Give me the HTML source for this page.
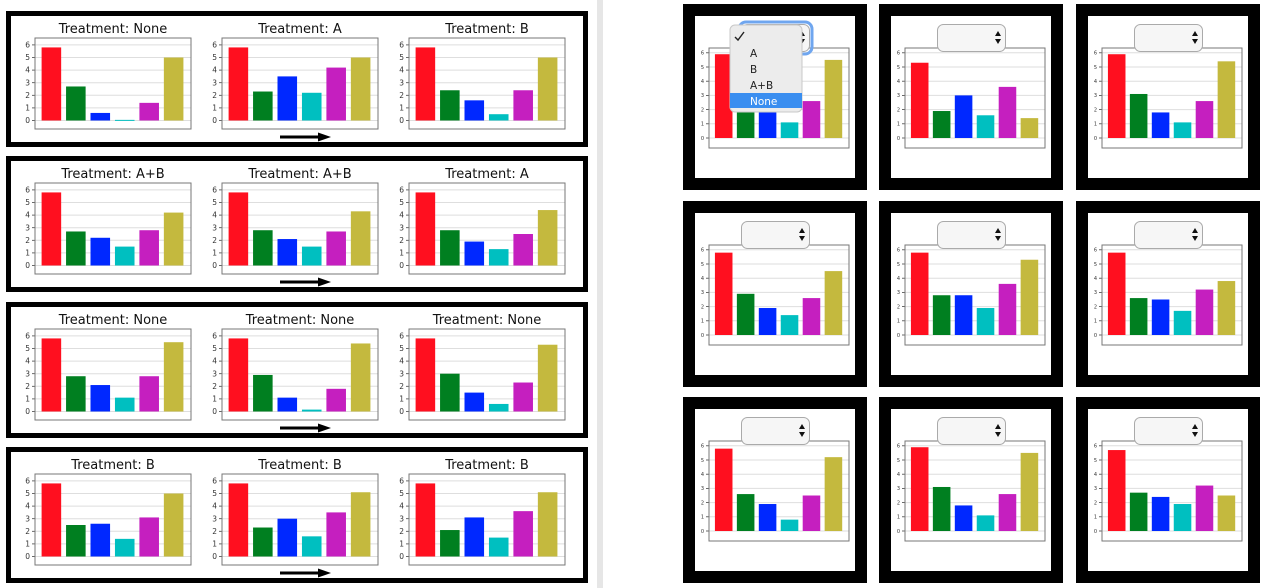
<!DOCTYPE html>
<html><head><meta charset="utf-8">
<style>
html,body{margin:0;padding:0;background:#fff;width:1265px;height:588px;overflow:hidden;font-family:"DejaVu Sans","Liberation Sans",sans-serif}
#divider{position:absolute;left:597px;top:0;width:6px;height:588px;background:#e6e6e6}
</style></head><body>
<div id="divider"></div>
<svg id="svg" width="1265" height="588" style="position:absolute;left:0;top:0"></svg>
<script>
const categories = ["r","g","b","c","m","y"];
const barColors = ["#ff0f1f","#007f20","#0028ff","#00bfc0","#c51fbf","#c4b93e"];
const yTicks = [0,1,2,3,4,5,6];
const leftTitles = [["None","A","B"],["A+B","A+B","A"],["None","None","None"],["B","B","B"]];
const leftValues = [
 [[5.8,2.7,0.6,0.05,1.4,5.0],[5.8,2.3,3.5,2.2,4.2,5.0],[5.8,2.4,1.6,0.5,2.4,5.0]],
 [[5.8,2.7,2.2,1.5,2.8,4.2],[5.8,2.8,2.1,1.5,2.7,4.3],[5.8,2.8,1.9,1.3,2.5,4.4]],
 [[5.8,2.8,2.1,1.1,2.8,5.5],[5.8,2.9,1.1,0.15,1.8,5.4],[5.8,3.0,1.5,0.6,2.3,5.3]],
 [[5.8,2.5,2.6,1.4,3.1,5.0],[5.8,2.3,3.0,1.6,3.5,5.1],[5.8,2.1,3.1,1.5,3.6,5.1]]
];
const rightValues = [
 [[5.9,2.9,2.4,1.1,2.6,5.5],[5.3,1.9,3.0,1.6,3.6,1.4],[5.9,3.1,1.8,1.1,2.6,5.4]],
 [[5.8,2.9,1.9,1.4,2.6,4.5],[5.8,2.8,2.8,1.9,3.6,5.3],[5.8,2.6,2.5,1.7,3.2,3.8]],
 [[5.8,2.6,1.9,0.8,2.5,5.2],[5.9,3.1,1.8,1.1,2.6,5.5],[5.7,2.7,2.4,1.9,3.2,2.5]]
];
const dropdownOptions = ["A","B","A+B","None"];

const NS="http://www.w3.org/2000/svg";
const svg=document.getElementById('svg');
function el(tag,attrs,parent){const e=document.createElementNS(NS,tag);for(const k in attrs)e.setAttribute(k,attrs[k]);(parent||svg).appendChild(e);return e;}

function drawChart(px,py,pw,ph,y0,pxPerUnit,vals,fs,name){
  const g=el('g',{});
  
  
  const xmin=-0.67,xmax=5.71;
  const xs=v=>px+(v-xmin)/(xmax-xmin)*pw;
  const ys=v=>y0-v*pxPerUnit;
  el('rect',{x:px,y:py,width:pw,height:ph,fill:'#fff'},g);
  yTicks.forEach(t=>{
    const y=ys(t);
    el('line',{x1:px,x2:px+pw,y1:y,y2:y,stroke:'#dedede','stroke-width':1},g);
    el('line',{x1:px-3,x2:px,y1:y,y2:y,stroke:'#444','stroke-width':0.8},g);
    const tx=el('text',{x:px-5,y:y+fs*0.35,'font-size':fs,'text-anchor':'end',fill:'#333'},g);
    tx.textContent=t;
  });
  vals.forEach((v,i)=>{
    const b=el('rect',{x:xs(i-0.4),y:ys(v),width:xs(0.4)-xs(-0.4),height:Math.max(1,v*pxPerUnit),fill:barColors[i]},g);
    
    
  });
  el('rect',{x:px,y:py,width:pw,height:ph,fill:'none',stroke:'#777','stroke-width':1},g);
  return g;
}

// Left panel
const rowTops=[11,156,302,447];
const plotXs=[35,222,409];
rowTops.forEach((top,r)=>{
  const box=el('rect',{x:8.5,y:top+2.5,width:577,height:131,fill:'#fff',stroke:'#000','stroke-width':5});
  
  
  for(let c=0;c<3;c++){
    const px=plotXs[c];
    const t=el('text',{x:px+78,y:top+22,'font-size':13,'text-anchor':'middle',fill:'#111'});
    t.textContent='Treatment: '+leftTitles[r][c];
    
    
    drawChart(px,top+27,156,91,top+109.5,12.6,leftValues[r][c],7.5,'left-chart-'+(r+1)+'-'+(c+1));
  }
  const a=el('g',{});
  
  
  el('line',{x1:280,x2:320,y1:top+126,y2:top+126,stroke:'#000','stroke-width':3},a);
  el('polygon',{points:`318,${top+121.5} 331,${top+126} 318,${top+130.5}`,fill:'#000'},a);
});

// Right panel
const colXs=[683,879,1076];
const rowYs=[4,201,397];
rowYs.forEach((by,r)=>{
  colXs.forEach((bx,c)=>{
    const box=el('rect',{x:bx+6,y:by+6,width:172,height:174,fill:'#fff',stroke:'#000','stroke-width':12});
    
    
    drawChart(bx+26,by+44,140,100,by+134,14.2,rightValues[r][c],5,'right-chart-'+(r+1)+'-'+(c+1));
    const dd=el('g',{});
    
    
    const focused=(r===0&&c===0);
    if(focused) el('rect',{x:bx+56,y:by+18,width:73,height:32,rx:7,fill:'none',stroke:'#6fa6ef','stroke-width':3},dd);
    el('rect',{x:bx+58.5,y:by+20.5,width:68,height:27,rx:6,fill:'#f6f6f6',stroke:'#aaa','stroke-width':1},dd);
    el('polygon',{points:`${bx+116},${by+32} ${bx+119},${by+27} ${bx+122},${by+32}`,fill:'#111'},dd);
    el('polygon',{points:`${bx+116},${by+35} ${bx+119},${by+40} ${bx+122},${by+35}`,fill:'#111'},dd);
  });
});

// Open dropdown menu on first widget
const menu=el('g',{});


el('rect',{x:730,y:25,width:72,height:87,rx:5,fill:'#ececec',stroke:'#c8c8c8','stroke-width':1},menu);
el('path',{d:'M735 37 L738 40 L744 32',fill:'none',stroke:'#222','stroke-width':1.4},menu);
el('rect',{x:730,y:93,width:72,height:15,fill:'#3a8ef0'},menu);
dropdownOptions.forEach((o,i)=>{
  const t=el('text',{x:750,y:57+i*16,'font-size':10.5,fill:i===3?'#fff':'#222'},menu);
  t.textContent=o;
  
  
});
</script>
</body></html>
